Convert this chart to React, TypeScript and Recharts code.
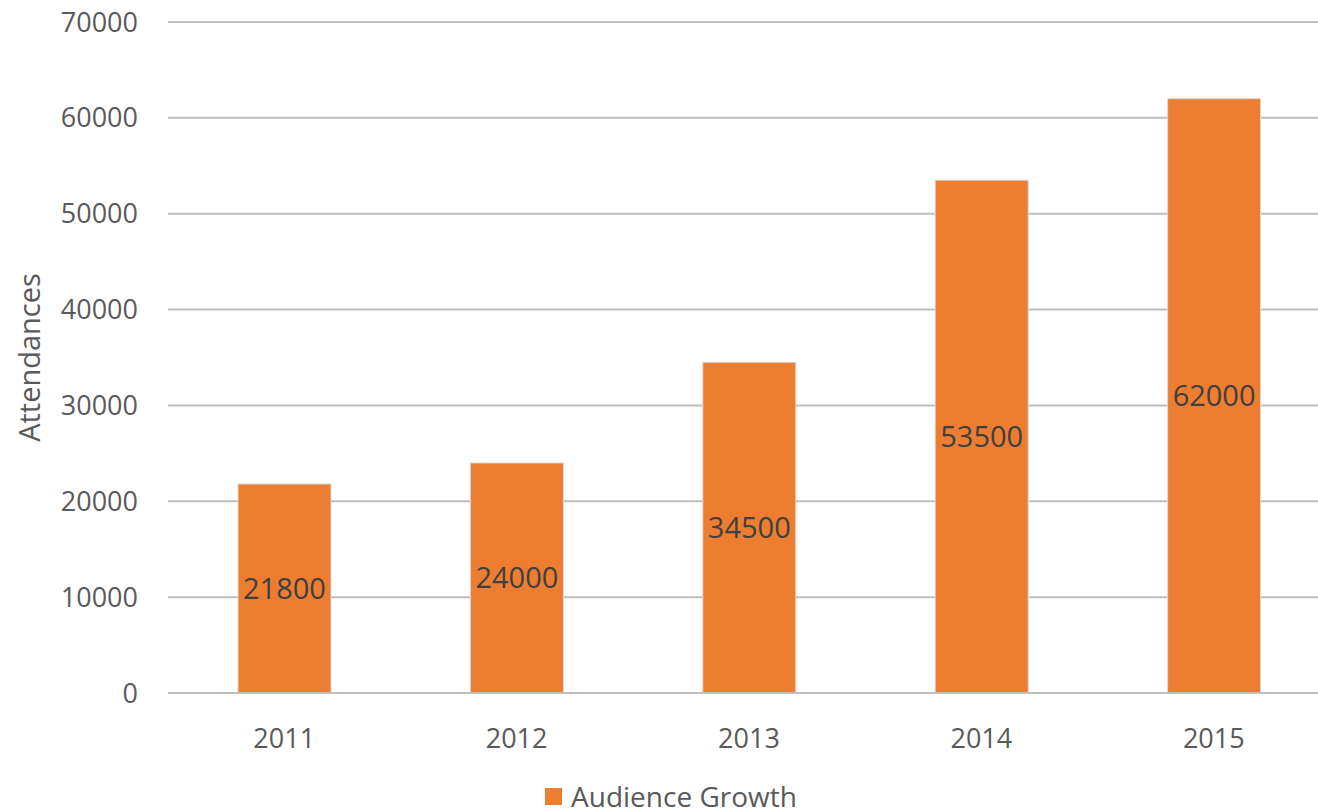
import { BarChart, Bar, XAxis, YAxis, CartesianGrid, Legend, LabelList, Label } from "recharts";

// ─── Data ─────────────────────────────────────────────────────────────────────
const years = ["2011", "2012", "2013", "2014", "2015"];
const audience = [21800, 24000, 34500, 53500, 62000];
const yTicks = [0, 10000, 20000, 30000, 40000, 50000, 60000, 70000];

const data = years.map((year, i) => ({ year, audience: audience[i] }));

const FONT = "'Open Sans', 'Noto Sans', sans-serif";
const ORANGE = "#ED7D31";
const GRAY = "#595959";

function AudienceLegend() {
  return (
    <div
      style={{
        display: "flex",
        justifyContent: "flex-start",
        alignItems: "center",
        paddingLeft: 545,
        paddingTop: 11,
        height: 28,
        lineHeight: "28px",
        fontFamily: FONT,
        fontSize: 28,
        color: GRAY,
      }}
    >
      <span style={{ width: 17, height: 17, background: ORANGE, marginRight: 9, display: "inline-block" }} />
      Audience Growth
    </div>
  );
}

export default function App() {
  return (
    <div style={{ position: "absolute", left: 0, top: 0, width: 1318, height: 811, overflow: "hidden", background: "#fff" }}>
      <BarChart
        width={1330}
        height={811}
        data={data}
        margin={{ top: 22, right: 0, left: 0, bottom: 0 }}
        barSize={93}
      >
        <CartesianGrid vertical={false} stroke="#BFBFBF" strokeWidth={2} />
        <XAxis
          dataKey="year"
          height={78}
          axisLine={{ stroke: "#BFBFBF", strokeWidth: 2 }}
          tickLine={false}
          tickMargin={30}
          tick={{ fontSize: 27, fill: GRAY, fontFamily: FONT }}
        />
        <YAxis
          width={168}
          domain={[0, 70000]}
          ticks={yTicks}
          axisLine={false}
          tickLine={false}
          tickMargin={24}
          tick={{ fontSize: 27, fill: GRAY, fontFamily: FONT }}
        >
          <Label
            value="Attendances"
            angle={-90}
            position="insideLeft"
            offset={30}
            style={{ fontSize: 29, fill: GRAY, fontFamily: FONT, textAnchor: "middle" }}
          />
        </YAxis>
        <Legend verticalAlign="bottom" height={40} content={<AudienceLegend />} />
        <Bar dataKey="audience" fill={ORANGE} stroke="#D9D9D9" strokeWidth={1} isAnimationActive={false}>
          <LabelList
            dataKey="audience"
            position="center"
            style={{ fontSize: 29, fill: "#404040", fontFamily: FONT }}
          />
        </Bar>
      </BarChart>
    </div>
  );
}
